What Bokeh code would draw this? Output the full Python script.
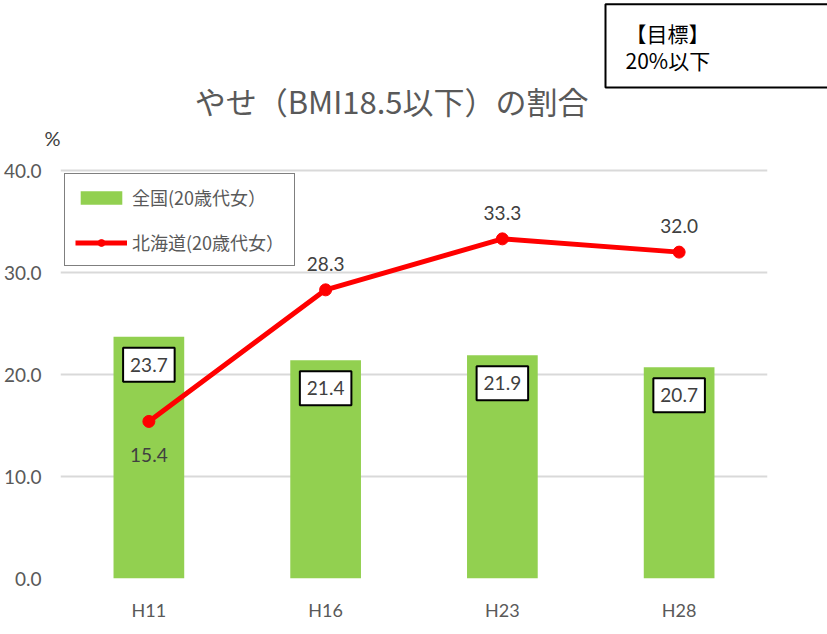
from bokeh.plotting import figure
from bokeh.models import (FactorRange, Range1d, Legend, LegendItem, Title, Label,
                          LinearAxis, ColumnDataSource, NumeralTickFormatter,
                          FixedTicker)
from bokeh.core.properties import value
from bokeh.embed import file_html
from bokeh.resources import INLINE

# ---- data ----
categories = ["H11", "H16", "H23", "H28"]
national = [23.7, 21.4, 21.9, 20.7]
hokkaido = [15.4, 28.3, 33.3, 32.0]
hokkaido_label_side = ["below", "above", "above", "above"]
y_ticks = [0, 10, 20, 30, 40]

title_text = "やせ（BMI18.5以下）の割合"
goal_text = "【目標】\n20%以下"
unit_text = "%"
series_names = ["全国(20歳代女）", "北海道(20歳代女）"]

# ---- layout constants ----
Y_TOP = 48.14      # visible top of the value axis (room for the title)
UNIT_Y = 43.2      # where the "%" unit sits on the value axis
TITLE_X, TITLE_Y = 1.873, 46.91

GREEN = "#92d050"
RED = "#ff0000"
GRAY = "#595959"
DARK = "#404040"
JPF = "Noto Sans CJK JP"
NUMF = "Lato"

src = ColumnDataSource(dict(
    cat=categories,
    nat=national,
    hok=hokkaido,
    nat_txt=[f"{v:.1f}" for v in national],
    hok_txt=[f"{v:.1f}" for v in hokkaido],
    hok_off=[34 if s == "below" else -26 for s in hokkaido_label_side],
))

p = figure(width=827, height=634, title=None,
           x_range=FactorRange(*categories), y_range=Range1d(0, Y_TOP),
           output_backend="svg", toolbar_location=None,
           min_border_left=60, min_border_right=60,
           min_border_top=87, min_border_bottom=56)
p.outline_line_color = None
p.background_fill_color = "white"
p.border_fill_color = "white"

bars = p.vbar(x="cat", top="nat", width=0.4, source=src,
              fill_color=GREEN, line_color=None)
line = p.line(x="cat", y="hok", source=src, line_color=RED, line_width=5)
pts = p.scatter(x="cat", y="hok", source=src, size=12,
                fill_color=RED, line_color=RED)

# bar value boxes
p.text(x="cat", y="nat", text="nat_txt", source=src, y_offset=28,
       text_align="center", text_baseline="middle",
       text_font=value(NUMF), text_font_size="19px", text_color=DARK,
       background_fill_color="white", border_line_color="black",
       border_line_width=2, padding=dict(left=7, right=7, top=10, bottom=10))

# line value labels
p.text(x="cat", y="hok", text="hok_txt", source=src, y_offset="hok_off",
       text_align="center", text_baseline="middle",
       text_font=value(NUMF), text_font_size="19px", text_color=DARK)

# axes
main_y = p.yaxis[0]
main_y.ticker = FixedTicker(ticks=y_ticks)
main_y.formatter = NumeralTickFormatter(format="0.0")
unit_y = LinearAxis(ticker=FixedTicker(ticks=[UNIT_Y]),
                    major_label_overrides={UNIT_Y: unit_text})
for ax in (p.xaxis[0], main_y, unit_y):
    ax.axis_line_color = None
    ax.major_tick_line_color = None
    ax.minor_tick_line_color = None
    ax.major_tick_out = 0
    ax.major_tick_in = 0
    ax.minor_tick_out = 0
    ax.minor_tick_in = 0
    ax.major_label_text_font = NUMF
main_y.major_label_text_color = GRAY
p.xaxis.major_label_text_color = GRAY
unit_y.major_label_text_color = DARK
main_y.major_label_text_font_size = "19px"
unit_y.major_label_text_font_size = "20px"
p.xaxis.major_label_text_font_size = "18px"
unit_y.major_label_standoff = 0
main_y.major_label_standoff = 0
p.xaxis.major_label_standoff = 20
p.left = [unit_y, main_y]

p.xgrid.grid_line_color = None
p.ygrid.ticker = FixedTicker(ticks=y_ticks)
p.ygrid.grid_line_color = "#d9d9d9"
p.ygrid.grid_line_width = 2

legend = Legend(items=[LegendItem(label=series_names[0], renderers=[bars]),
                       LegendItem(label=series_names[1], renderers=[line, pts])],
                location=(4, 312), margin=0, padding=10, spacing=19,
                glyph_width=52, glyph_height=17, label_standoff=5,
                label_text_font=JPF, label_text_font_size="18px",
                label_text_color=GRAY, label_height=24,
                border_line_color="black", border_line_width=1.5,
                background_fill_color="white", background_fill_alpha=1)
p.add_layout(legend)

# chart title
p.add_layout(Label(x=TITLE_X, y=TITLE_Y, text=title_text, text_align="center",
                   text_baseline="middle", text_font=JPF,
                   text_font_size="31px", text_color=GRAY))

# goal box (side-panel title above the plot)
p.add_layout(Title(text=goal_text, align="left", offset=545, standoff=0,
                   text_font=JPF, text_font_size="21px",
                   text_font_style="normal", text_color="black",
                   text_line_height=0.91,
                   background_fill_color="white", border_line_color="black",
                   border_line_width=2,
                   padding=dict(left=20, right=240, top=14, bottom=12)), "above")

open("out.html", "w").write(file_html(p, INLINE))
